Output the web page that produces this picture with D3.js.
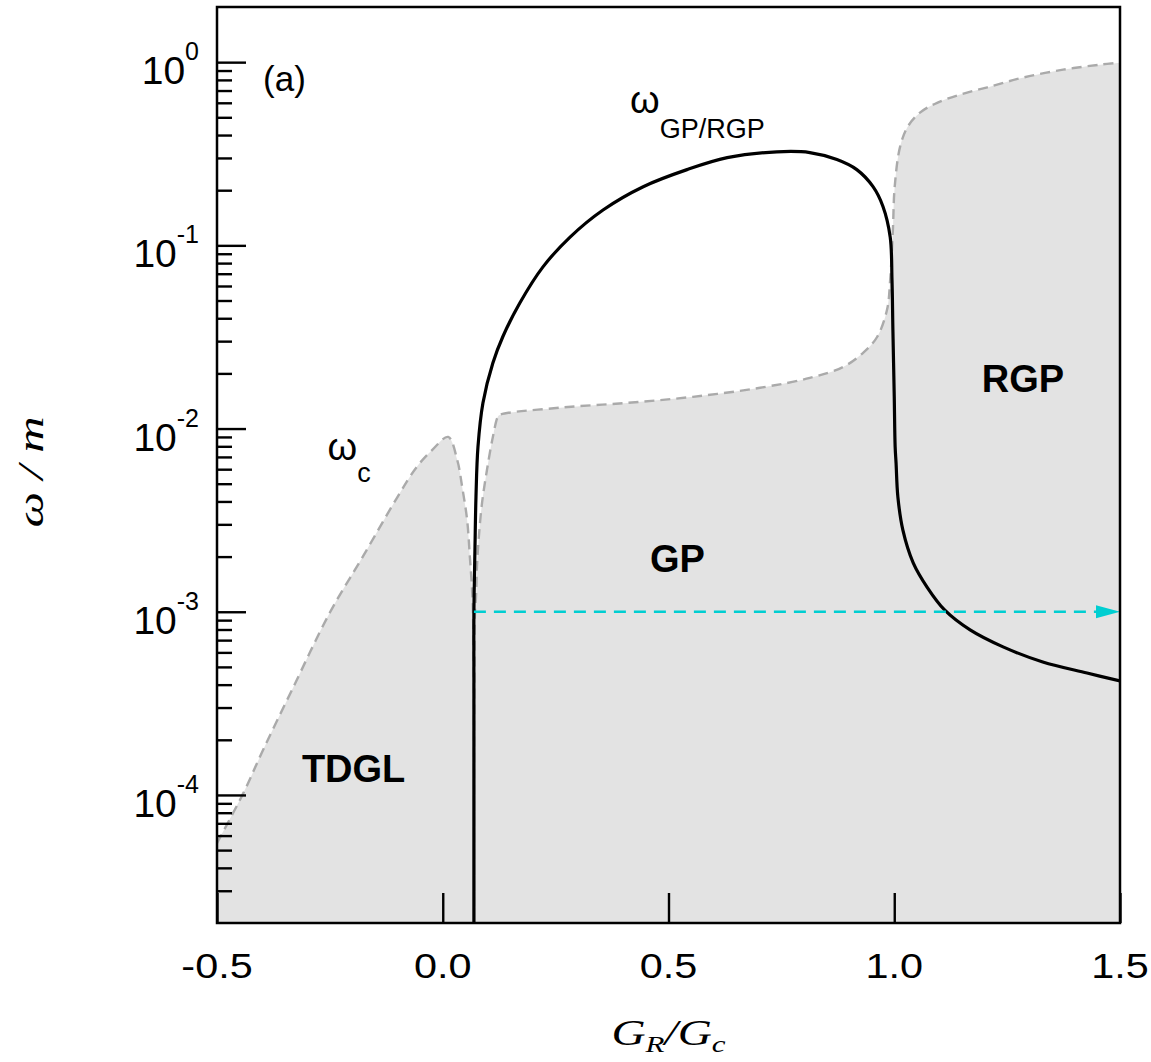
<!DOCTYPE html>
<html>
<head>
<meta charset="utf-8">
<script src="https://d3js.org/d3.v7.min.js"></script>
<style>
body { margin: 0; background: #fff; }
svg { display: block; }
text { font-family: 'Liberation Sans', Arial, sans-serif; fill: #000; }
</style>
</head>
<body>
<div id="plot"></div>
<script>
// omega_c boundary (grey dashed, shaded underneath)
var wcG = [-0.5, -0.442, -0.398, -0.334, -0.25, -0.177, -0.101, -0.057, -0.022, 0.012,
           0.032, 0.043, 0.054, 0.060, 0.065, 0.067, 0.068, 0.069, 0.0695,
           0.070, 0.0714, 0.0736, 0.0758, 0.080, 0.087, 0.098, 0.111, 0.122, 0.127,
           0.26, 0.408, 0.554, 0.703, 0.813, 0.887, 0.931, 0.962, 0.984, 0.991,
           0.997, 1.001, 1.013, 1.030, 1.057, 1.095, 1.146, 1.212, 1.285, 1.374, 1.456, 1.5];
var wcW = [5.46e-5, 1.02e-4, 1.76e-4, 3.74e-4, 9.9e-4, 2.0e-3, 4.2e-3, 6.2e-3, 7.7e-3, 9.0e-3,
           6.75e-3, 4.8e-3, 3.17e-3, 2.0e-3, 1.31e-3, 9.9e-4, 6.4e-4, 3.7e-4, 2e-5,
           4e-4, 9.9e-4, 1.2e-3, 1.76e-3, 2.57e-3, 3.93e-3, 5.96e-3, 9.0e-3, 1.16e-2, 1.19e-2,
           1.30e-2, 1.38e-2, 1.49e-2, 1.67e-2, 1.89e-2, 2.17e-2, 2.59e-2, 3.16e-2, 4.45e-2, 6.49e-2,
           0.122, 0.209, 0.346, 0.445, 0.53, 0.60, 0.665, 0.735, 0.823, 0.91, 0.969, 0.994];

// omega_GP/RGP (black solid)
var gpG = [0.069, 0.069, 0.069, 0.0714, 0.0736, 0.078, 0.089, 0.111, 0.133, 0.171, 0.222,
           0.282, 0.355, 0.444, 0.541, 0.630, 0.740, 0.813, 0.873, 0.917, 0.953, 0.975,
           0.991, 0.995, 0.997, 1.000, 1.002, 1.004, 1.008, 1.019, 1.042, 1.073, 1.112,
           1.168, 1.241, 1.329, 1.427, 1.5];
var gpW = [2e-5, 4.24e-4, 9.9e-4, 2.26e-3, 4.24e-3, 7.94e-3, 1.38e-2, 2.28e-2, 3.17e-2, 4.86e-2, 7.63e-2,
           0.111, 0.156, 0.209, 0.259, 0.301, 0.324, 0.321, 0.294, 0.259, 0.209, 0.163,
           0.111, 6.49e-2, 3.46e-2, 1.49e-2, 7.94e-3, 6.5e-3, 4.24e-3, 2.8e-3, 1.85e-3, 1.36e-3, 1.02e-3,
           7.96e-4, 6.43e-4, 5.32e-4, 4.63e-4, 4.19e-4];

// cyan arrow at omega/m = 1e-3
var arrowG = [0.069, 1.5];
var arrowW = [1e-3, 1e-3];

var xTicks = [-0.5, 0, 0.5, 1.0, 1.5];
var xTickLabels = ["-0.5", "0.0", "0.5", "1.0", "1.5"];
var yExps = [0, -1, -2, -3, -4];

var svg = d3.select("#plot").append("svg")
    .attr("width", 1151)
    .attr("height", 1062);

var margin = {top: 7, right: 31, bottom: 139, left: 217},
    width = 1151 - margin.left - margin.right,
    height = 1062 - margin.top - margin.bottom,
    g = svg.append("g").attr("transform", "translate(" + margin.left + "," + margin.top + ")");

var x = d3.scaleLinear().domain([-0.5, 1.5]).range([0, width]);
var y = d3.scaleLog().domain([2e-5, 2]).range([height, 0]);

g.append("clipPath").attr("id", "clip")
  .append("rect").attr("width", width).attr("height", height);

var wc = wcG.map(function(d, i) { return [d, wcW[i]]; });
var gp = gpG.map(function(d, i) { return [d, gpW[i]]; });

var plot = g.append("g").attr("clip-path", "url(#clip)");

// shaded region under omega_c
plot.append("path")
    .datum(wc)
    .attr("fill", "#e3e3e3")
    .attr("d", d3.area()
        .curve(d3.curveCatmullRom.alpha(0.5))
        .x(function(d) { return x(d[0]); })
        .y0(height)
        .y1(function(d) { return y(d[1]); }));

plot.append("path")
    .datum(wc)
    .attr("fill", "none")
    .attr("stroke", "#aaaaaa")
    .attr("stroke-width", 2.4)
    .attr("stroke-dasharray", "10,6")
    .attr("d", d3.line()
        .curve(d3.curveCatmullRom.alpha(0.5))
        .x(function(d) { return x(d[0]); })
        .y(function(d) { return y(d[1]); }));

plot.append("path")
    .datum(gp)
    .attr("fill", "none")
    .attr("stroke", "#000")
    .attr("stroke-width", 3.2)
    .attr("d", d3.line()
        .curve(d3.curveCatmullRom.alpha(0.5))
        .x(function(d) { return x(d[0]); })
        .y(function(d) { return y(d[1]); }));

// arrow
var ax0 = x(arrowG[0]), ax1 = x(arrowG[1]), ay = y(arrowW[0]);
plot.append("line")
    .attr("x1", ax0).attr("x2", ax1 - 24)
    .attr("y1", ay).attr("y2", ay)
    .attr("stroke", "#00ced1")
    .attr("stroke-width", 2.5)
    .attr("stroke-dasharray", "12,8");
plot.append("path")
    .attr("d", "M" + ax1 + "," + ay + "L" + (ax1 - 24) + "," + (ay - 6.5) + "L" + (ax1 - 24) + "," + (ay + 6.5) + "Z")
    .attr("fill", "#00ced1");

// ticks (inside)
var minor = [];
yExps.concat([-5]).forEach(function(e) {
  for (var k = 2; k <= 9; k++) {
    var v = k * Math.pow(10, e);
    if (v > 2e-5 && v < 2) minor.push(v);
  }
});
var yMaj = g.append("g").call(d3.axisLeft(y)
    .tickValues(yExps.map(function(e) { return Math.pow(10, e); }))
    .tickSize(-29).tickFormat(""));
var yMin = g.append("g").call(d3.axisLeft(y)
    .tickValues(minor).tickSize(-15).tickFormat(""));
var xAx = g.append("g").attr("transform", "translate(0," + height + ")")
    .call(d3.axisBottom(x).tickValues(xTicks).tickSize(-30).tickFormat(""));
[yMaj, yMin, xAx].forEach(function(a) {
  a.select(".domain").remove();
  a.selectAll("line").attr("stroke", "#000").attr("stroke-width", 2.4);
});

// frame
g.append("rect")
    .attr("width", width).attr("height", height)
    .attr("fill", "none")
    .attr("stroke", "#000")
    .attr("stroke-width", 2.5);

// y tick labels
yExps.forEach(function(e) {
  var t = g.append("text")
      .attr("x", -18)
      .attr("y", y(Math.pow(10, e)) + 22)
      .attr("text-anchor", "end");
  t.append("tspan").attr("font-size", 39).text("10");
  t.append("tspan").attr("font-size", 25).attr("dy", -24).text(e);
});

// x tick labels
xTicks.forEach(function(v, i) {
  g.append("text")
      .attr("transform", "translate(" + x(v) + "," + (height + 55) + ") scale(1.15,1)")
      .attr("text-anchor", "middle")
      .attr("font-size", 36)
      .text(xTickLabels[i]);
});

// axis titles
var xl = svg.append("text")
    .attr("transform", "translate(" + (margin.left + width / 2) + ",1045) scale(1.35,1)")
    .attr("text-anchor", "middle")
    .style("font-family", "'Liberation Serif', 'Times New Roman', serif")
    .style("font-style", "italic")
    .attr("font-size", 35);
xl.append("tspan").text("G");
xl.append("tspan").attr("font-size", 23).attr("dy", 7).text("R");
xl.append("tspan").attr("dy", -7).text("/G");
xl.append("tspan").attr("font-size", 23).attr("dy", 7).text("c");

svg.append("text")
    .attr("transform", "translate(43,472) rotate(-90) scale(1.4,1)")
    .attr("text-anchor", "middle")
    .style("font-family", "'Liberation Serif', 'Times New Roman', serif")
    .style("font-style", "italic")
    .attr("font-size", 36)
    .text("\u03c9 / m");

// annotations
g.append("text").attr("x", x(-0.398)).attr("y", y(0.697))
    .attr("font-size", 35).text("(a)");

g.append("text").attr("x", x(-0.312)).attr("y", y(1.18e-4))
    .attr("font-size", 38).attr("font-weight", "bold").text("TDGL");
g.append("text").attr("x", x(0.459)).attr("y", y(1.65e-3))
    .attr("font-size", 38).attr("font-weight", "bold").text("GP");
g.append("text").attr("x", x(1.194)).attr("y", y(1.58e-2))
    .attr("font-size", 38).attr("font-weight", "bold").text("RGP");

var w1 = g.append("text").attr("x", x(0.415)).attr("y", y(0.53));
w1.append("tspan").attr("font-size", 38).text("\u03c9");
w1.append("tspan").attr("font-size", 27).attr("dy", 25).text("GP/RGP");

var w2 = g.append("text").attr("x", x(-0.255)).attr("y", y(6.7e-3));
w2.append("tspan").attr("font-size", 38).text("\u03c9");
w2.append("tspan").attr("font-size", 27).attr("dy", 22).text("c");
</script>
</body>
</html>
